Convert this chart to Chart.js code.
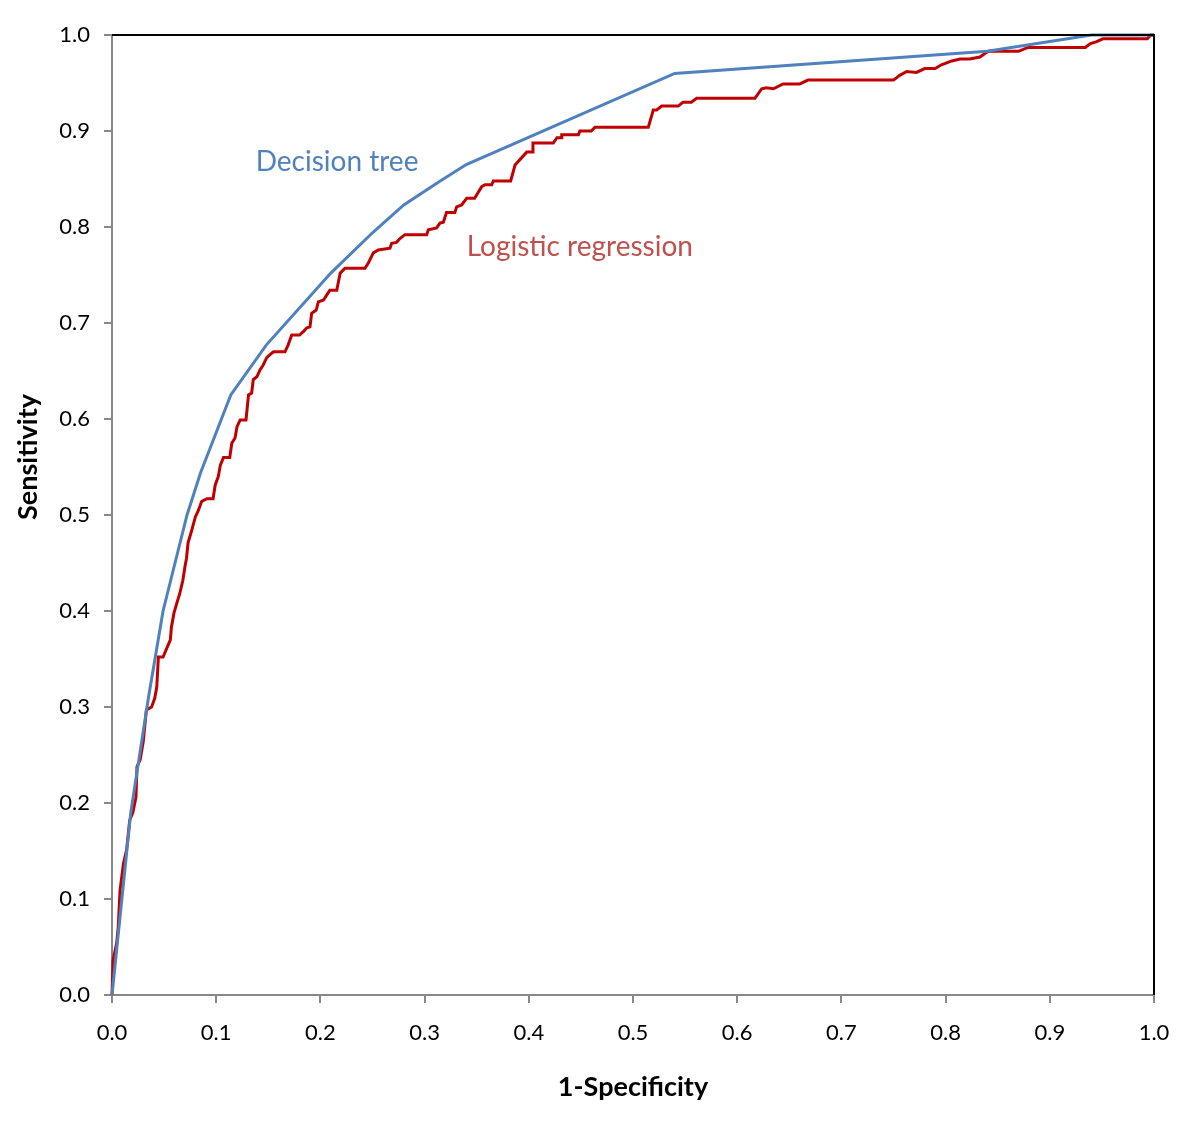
<!DOCTYPE html>
<html>
<head>
<meta charset="utf-8">
<script src="https://cdn.jsdelivr.net/npm/chart.js@4/dist/chart.umd.min.js"></script>
<style>
  html, body { margin: 0; padding: 0; background: #fff; }
  #wrap { width: 1200px; height: 1121px; position: relative; }
</style>
</head>
<body>
<div id="wrap"><canvas id="roc"></canvas></div>
<script>
// ROC curves - decision tree vs logistic regression

const tickValues = [0, 0.1, 0.2, 0.3, 0.4, 0.5, 0.6, 0.7, 0.8, 0.9, 1.0];

// decision tree (piecewise linear)
const treeX = [0, 0.018, 0.035, 0.049, 0.072, 0.085, 0.114, 0.148, 0.21, 0.25, 0.28, 0.315, 0.34, 0.54, 0.84, 0.94, 1.0];
const treeY = [0, 0.19, 0.31, 0.40, 0.50, 0.544, 0.625, 0.677, 0.752, 0.794, 0.823, 0.848, 0.865, 0.96, 0.983, 1.0, 1.0];

// logistic regression (stepped)
const logitX = [0, 0.001, 0.0045, 0.006, 0.0077, 0.011, 0.014, 0.017, 0.020, 0.023, 0.024, 0.027, 0.030, 0.033, 0.038, 0.041, 0.043, 0.0445, 0.049, 0.0525,
  0.056, 0.057, 0.0595, 0.063, 0.065, 0.068, 0.070, 0.0715, 0.073, 0.0765, 0.080, 0.083, 0.086, 0.091, 0.097, 0.099, 0.102, 0.104, 0.107, 0.113,
  0.115, 0.118, 0.120, 0.123, 0.1286, 0.131, 0.134, 0.1356, 0.139, 0.142, 0.145, 0.1485, 0.1516, 0.155, 0.166, 0.169, 0.1725, 0.180, 0.1836, 0.187,
  0.190, 0.1916, 0.196, 0.198, 0.203, 0.206, 0.209, 0.2157, 0.219, 0.2236, 0.2428, 0.246, 0.2508, 0.2556, 0.2668, 0.2684, 0.273, 0.2764, 0.281, 0.302,
  0.3036, 0.3115, 0.3148, 0.318, 0.321, 0.329, 0.3308, 0.3356, 0.3404, 0.348, 0.3548, 0.358, 0.3644, 0.366, 0.3826, 0.3868, 0.393, 0.398, 0.404, 0.404,
  0.4235, 0.427, 0.4316, 0.4316, 0.4476, 0.449, 0.460, 0.4635, 0.5147, 0.5195, 0.5227, 0.5275, 0.5435, 0.548, 0.556, 0.561, 0.617, 0.6235, 0.628, 0.6347,
  0.644, 0.660, 0.668, 0.750, 0.756, 0.7627, 0.772, 0.780, 0.790, 0.796, 0.806, 0.814, 0.823, 0.833, 0.838, 0.841, 0.870, 0.879, 0.934, 0.939,
  0.945, 0.951, 0.9935, 0.997, 1.0];
const logitY = [0, 0.036, 0.054, 0.071, 0.109, 0.137, 0.151, 0.182, 0.190, 0.206, 0.238, 0.245, 0.264, 0.297, 0.300, 0.309, 0.321, 0.352, 0.352, 0.361,
  0.370, 0.383, 0.398, 0.411, 0.418, 0.432, 0.446, 0.455, 0.471, 0.484, 0.498, 0.505, 0.514, 0.517, 0.517, 0.531, 0.540, 0.552, 0.560, 0.560,
  0.575, 0.580, 0.592, 0.599, 0.599, 0.625, 0.627, 0.641, 0.644, 0.651, 0.656, 0.664, 0.667, 0.670, 0.670, 0.677, 0.6875, 0.6875, 0.691, 0.695,
  0.696, 0.710, 0.7135, 0.722, 0.724, 0.729, 0.734, 0.734, 0.752, 0.757, 0.757, 0.7625, 0.773, 0.776, 0.778, 0.783, 0.784, 0.788, 0.792, 0.792,
  0.797, 0.799, 0.804, 0.805, 0.815, 0.815, 0.821, 0.823, 0.830, 0.830, 0.842, 0.844, 0.844, 0.848, 0.848, 0.8646, 0.872, 0.878, 0.878, 0.8875,
  0.8875, 0.893, 0.893, 0.896, 0.896, 0.900, 0.900, 0.904, 0.904, 0.922, 0.922, 0.926, 0.926, 0.930, 0.930, 0.934, 0.934, 0.944, 0.945, 0.944,
  0.949, 0.949, 0.953, 0.953, 0.958, 0.962, 0.961, 0.965, 0.965, 0.969, 0.973, 0.975, 0.975, 0.977, 0.981, 0.983, 0.983, 0.987, 0.987, 0.991,
  0.993, 0.996, 0.996, 1.0, 1.0];

const toPoints = (xs, ys) => xs.map((x, i) => ({ x: x, y: ys[i] }));

const FONT = 'Lato, "Open Sans", sans-serif';

// top / right frame, in-plot labels and rotated y title
const extras = {
    id: 'extras',
    afterDraw(chart) {
        const { ctx, chartArea: a, scales } = chart;
        ctx.save();
        ctx.strokeStyle = '#000';
        ctx.lineWidth = 2;
        ctx.beginPath();
        ctx.moveTo(a.left, a.top);
        ctx.lineTo(a.right, a.top);
        ctx.lineTo(a.right, a.bottom);
        ctx.stroke();

        ctx.font = '28px ' + FONT;
        ctx.textAlign = 'center';
        ctx.textBaseline = 'middle';
        ctx.fillStyle = '#4F81BD';
        ctx.fillText('Decision tree', scales.x.getPixelForValue(0.216), scales.y.getPixelForValue(0.868));
        ctx.fillStyle = '#C0504D';
        ctx.fillText('Logistic regression', scales.x.getPixelForValue(0.449), scales.y.getPixelForValue(0.779));

        ctx.translate(28, 457);
        ctx.rotate(-Math.PI / 2);
        ctx.fillStyle = '#000';
        ctx.font = 'bold 27px ' + FONT;
        ctx.fillText('Sensitivity', 0, 0);
        ctx.restore();
    }
};

const ctx = document.getElementById('roc').getContext('2d');
new Chart(ctx, {
    type: 'line',
    data: {
        datasets: [
            {
                label: 'Decision tree',
                data: toPoints(treeX, treeY),
                borderColor: '#4F81BD',
                borderWidth: 3,
                pointRadius: 0,
                tension: 0,
                clip: false
            },
            {
                label: 'Logistic regression',
                data: toPoints(logitX, logitY),
                borderColor: '#C00000',
                borderWidth: 3,
                pointRadius: 0,
                tension: 0,
                clip: false
            }
        ]
    },
    options: {
        responsive: true,
        maintainAspectRatio: false,
        animation: false,
        layout: { padding: { top: 35, right: 46, left: 0, bottom: 0 } },
        plugins: { legend: { display: false }, tooltip: { enabled: false } },
        scales: {
            x: {
                type: 'linear',
                min: 0,
                max: 1,
                afterBuildTicks: s => { s.ticks = tickValues.map(v => ({ value: v })); },
                afterFit: s => { s.height = 126; },
                grid: { display: true, drawOnChartArea: false, drawTicks: true, tickLength: 8, color: '#888', lineWidth: 2 },
                border: { color: '#888', width: 2 },
                ticks: { color: '#000', font: { family: FONT, size: 22 }, padding: 17, maxRotation: 0,
                    callback: v => v.toFixed(1) },
                title: { display: true, text: '1-Specificity', color: '#000',
                    font: { family: FONT, size: 27, weight: 'bold' }, padding: { top: 10, bottom: 18 } }
            },
            y: {
                type: 'linear',
                min: 0,
                max: 1,
                afterBuildTicks: s => { s.ticks = tickValues.map(v => ({ value: v })); },
                afterFit: s => { s.width = 112; },
                grid: { display: true, drawOnChartArea: false, drawTicks: true, tickLength: 8, color: '#888', lineWidth: 2 },
                border: { color: '#888', width: 2 },
                ticks: { color: '#000', font: { family: FONT, size: 22 }, padding: 14,
                    callback: v => v.toFixed(1) }
            }
        }
    },
    plugins: [extras]
});
</script>
</body>
</html>
